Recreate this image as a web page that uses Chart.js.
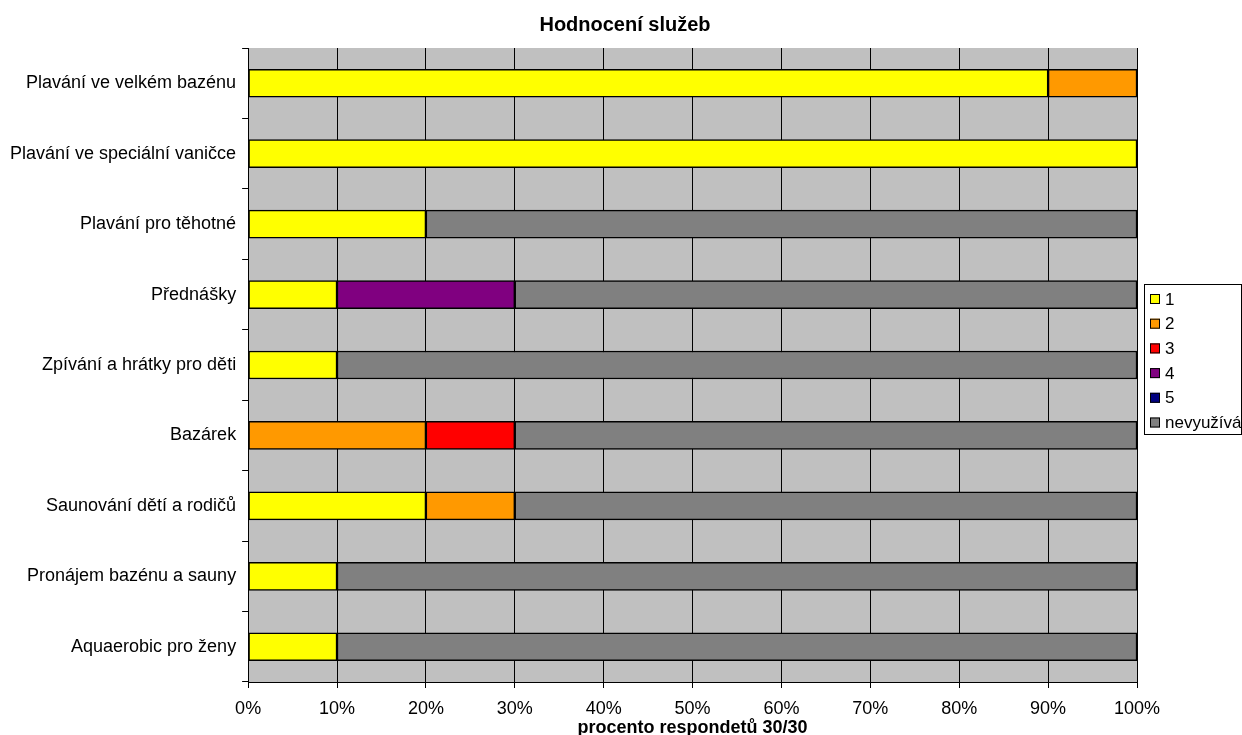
<!DOCTYPE html>
<html lang="cs">
<head>
<meta charset="utf-8">
<script src="https://cdn.jsdelivr.net/npm/chart.js"></script>
<style>
    html, body { margin: 0; padding: 0; background: #fff; }
    #wrap { width: 1242px; height: 735px; }
</style>
</head>
<body>
<div id="wrap"><canvas id="myChart"></canvas></div>
<script>
    // hodnoty v procentech respondentů
    const labels = ["Plavání ve velkém bazénu", "Plavání ve speciální vaničce", "Plavání pro těhotné",
        "Přednášky", "Zpívání a hrátky pro děti", "Bazárek", "Saunování dětí a rodičů",
        "Pronájem bazénu a sauny", "Aquaerobic pro ženy"];
    const rating1 = [90, 100, 20, 10, 10, 0, 20, 10, 10];
    const rating2 = [10, 0, 0, 0, 0, 20, 10, 0, 0];
    const rating3 = [0, 0, 0, 0, 0, 10, 0, 0, 0];
    const rating4 = [0, 0, 0, 20, 0, 0, 0, 0, 0];
    const rating5 = [0, 0, 0, 0, 0, 0, 0, 0, 0];
    const notUsed = [0, 0, 80, 70, 90, 70, 70, 90, 90];
    const seriesNames = ["1", "2", "3", "4", "5", "nevyužívá"];
    const colors = ["#FFFF00", "#FF9900", "#FF0000", "#800080", "#000080", "#808080"];

    const FONT = "'Liberation Sans', Arial, sans-serif";

    var datasets = [rating1, rating2, rating3, rating4, rating5, notUsed].map(function (values, i) {
        return {
            label: seriesNames[i],
            data: values,
            backgroundColor: colors[i],
            borderColor: '#000',
            borderWidth: 1.5,
            borderSkipped: false,
            barThickness: 28
        };
    });

    // šedé pozadí plochy grafu + nadpis
    const plotBackground = {
        id: 'plotBackground',
        beforeDraw: function (chart) {
            var a = chart.chartArea, ctx = chart.ctx;
            ctx.save();
            ctx.fillStyle = '#C0C0C0';
            ctx.fillRect(a.left, a.top, a.right - a.left, a.bottom - a.top);
            ctx.fillStyle = '#000';
            ctx.font = 'bold 20px ' + FONT;
            ctx.textAlign = 'center';
            ctx.textBaseline = 'alphabetic';
            ctx.fillText('Hodnocení služeb', 625, 31);
            ctx.restore();
        }
    };

    // legenda v rámečku vpravo
    const boxLegend = {
        id: 'boxLegend',
        afterDraw: function (chart) {
            var ctx = chart.ctx;
            var x = 1144, y = 284, w = 98, h = 151, step = 24.7;
            ctx.save();
            ctx.fillStyle = '#fff';
            ctx.fillRect(x, y, w, h);
            ctx.strokeStyle = '#000';
            ctx.lineWidth = 1;
            ctx.strokeRect(x + 0.5, y + 0.5, w - 1, h - 1);
            ctx.font = '17px ' + FONT;
            ctx.textBaseline = 'middle';
            chart.data.datasets.forEach(function (ds, i) {
                var cy = y + 15 + i * step;
                ctx.fillStyle = ds.backgroundColor;
                ctx.fillRect(x + 6, cy - 5, 10, 10);
                ctx.strokeStyle = '#000';
                ctx.strokeRect(x + 6.5, cy - 4.5, 9, 9);
                ctx.fillStyle = '#000';
                ctx.fillText(ds.label, x + 21, cy + 1);
            });
            ctx.restore();
        }
    };

    var myChart = new Chart(document.getElementById('myChart'), {
        type: 'bar',
        data: { labels: labels, datasets: datasets },
        options: {
            indexAxis: 'y',
            responsive: true,
            maintainAspectRatio: false,
            animation: false,
            layout: { padding: { left: 4, right: 105, top: 48, bottom: 0 } },
            plugins: {
                legend: { display: false },
                tooltip: { enabled: false }
            },
            scales: {
                x: {
                    stacked: true,
                    min: 0,
                    max: 100,
                    afterFit: function (scale) { scale.height = 53; },
                    ticks: {
                        stepSize: 10,
                        color: '#000',
                        font: { family: FONT, size: 18 },
                        padding: 10,
                        maxRotation: 0,
                        callback: function (v) { return v + '%'; }
                    },
                    grid: { color: '#000', lineWidth: 1, tickLength: 6 },
                    border: { color: '#000', width: 1 },
                    title: {
                        display: true,
                        text: 'procento respondetů 30/30',
                        color: '#000',
                        font: { family: FONT, size: 18, weight: 'bold' },
                        padding: { top: 0, bottom: -4 }
                    }
                },
                y: {
                    stacked: true,
                    ticks: {
                        color: '#000',
                        font: { family: FONT, size: 18 },
                        padding: 6
                    },
                    grid: { drawOnChartArea: false, offset: true, color: '#000', tickLength: 6 },
                    border: { color: '#000', width: 1 }
                }
            }
        },
        plugins: [plotBackground, boxLegend]
    });
</script>
</body>
</html>
